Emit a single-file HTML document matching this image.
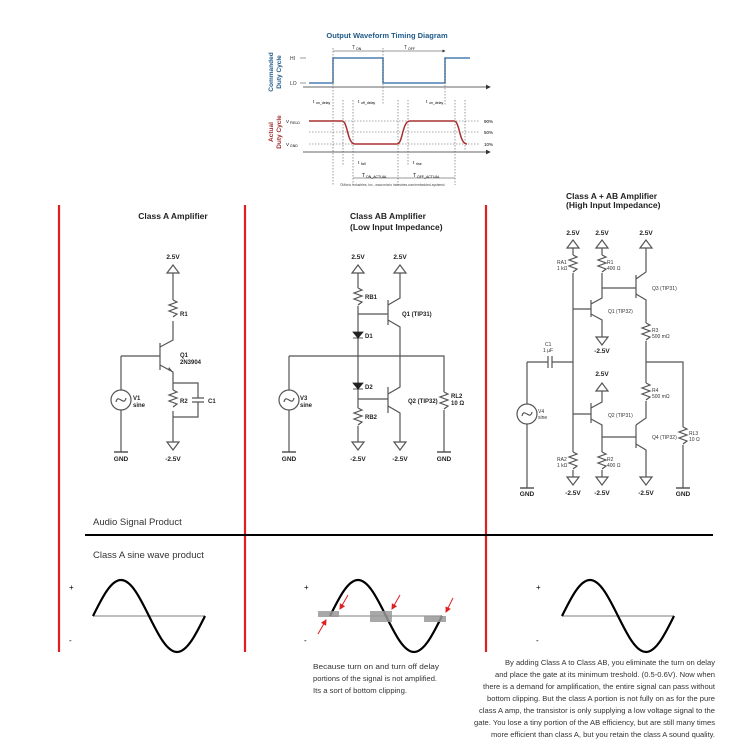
<!DOCTYPE html>
<html><head><meta charset="utf-8"><style>
html,body{margin:0;padding:0;background:#fff;}
svg{display:block;font-family:"Liberation Sans",Arial,sans-serif;}
.w{stroke:#555;stroke-width:1.2;fill:none}
.l{font-size:6px;font-weight:bold;fill:#222}
.v{font-size:6.5px;font-weight:bold;fill:#222}
.t{font-size:8.5px;font-weight:bold;fill:#222}
.s{font-size:5px;fill:#333}
</style></head><body>
<svg width="751" height="750" viewBox="0 0 751 750" xmlns="http://www.w3.org/2000/svg">
<defs>
<g id="tri"><path d="M-6,8 L0,0 L6,8 Z" class="w"/></g>
<g id="trid"><path d="M-6,0 L6,0 L0,8 Z" class="w"/></g>
<g id="gnd"><path d="M-7,0 H7" stroke="#555" stroke-width="1.5"/></g>
<g id="res"><path d="M0,0 l4,2 l-8,3 l8,3 l-8,3 l8,3 l-4,3" class="w"/></g>
<g id="src"><circle r="10" class="w"/><path d="M-5,2 C-3,-7 3,7 5,-2" class="w" stroke-width="1"/></g>
<marker id="ar" markerWidth="6" markerHeight="6" refX="5" refY="3" orient="auto"><path d="M0,0 L6,3 L0,6 Z" fill="#333"/></marker>
<marker id="ra" markerWidth="6" markerHeight="6" refX="5" refY="3" orient="auto"><path d="M0,0 L6,3 L0,6 Z" fill="#e02020"/></marker>
</defs>

<!-- Timing diagram -->
<text x="387" y="38" text-anchor="middle" font-size="7.5" font-weight="bold" fill="#1f5a8a">Output  Waveform Timing Diagram</text>
<text transform="translate(273,72) rotate(-90)" text-anchor="middle" font-size="6.5" font-weight="bold" fill="#1f5a8a">Commanded</text>
<text transform="translate(281,72) rotate(-90)" text-anchor="middle" font-size="6.5" font-weight="bold" fill="#1f5a8a">Duty Cycle</text>
<text transform="translate(273,132) rotate(-90)" text-anchor="middle" font-size="6.5" font-weight="bold" fill="#a03030">Actual</text>
<text transform="translate(281,132) rotate(-90)" text-anchor="middle" font-size="6.5" font-weight="bold" fill="#a03030">Duty Cycle</text>
<text x="290" y="60" class="s">HI</text><text x="290" y="85" class="s">LO</text>
<path d="M300,58 H306 M300,83 H306" stroke="#333" stroke-width="0.6"/>
<path d="M303,87 H490" stroke="#333" stroke-width="0.8" marker-end="url(#ar)"/>
<path d="M309,83 H333 V58 H383 V83 H445 V58 H470" stroke="#4a7fb0" stroke-width="1.5" fill="none"/>
<path d="M333,51 H383 M383,51 H445" stroke="#333" stroke-width="0.5" marker-end="url(#ar)"/>
<text x="352" y="49" class="s">T</text><text x="356" y="50" font-size="3.5">ON</text>
<text x="404" y="49" class="s">T</text><text x="408" y="50" font-size="3.5">OFF</text>
<g stroke="#333" stroke-width="0.5" stroke-dasharray="1.5,1.5">
<path d="M333,48 V185 M343,100 V165 M353,100 V185 M383,48 V105 M398,100 V185 M408,100 V165 M445,58 V105 M455,100 V185 M465,100 V150"/>
</g>
<text x="313" y="103" font-size="4.5">t</text><text x="316" y="104" font-size="3.5">on_delay</text>
<text x="358" y="103" font-size="4.5">t</text><text x="361" y="104" font-size="3.5">off_delay</text>
<text x="426" y="103" font-size="4.5">t</text><text x="429" y="104" font-size="3.5">on_delay</text>
<path d="M303,152 H490" stroke="#333" stroke-width="0.8" marker-end="url(#ar)"/>
<g stroke="#555" stroke-width="0.5" stroke-dasharray="1.5,1.5"><path d="M309,121 H480 M309,132 H480 M309,144 H480"/></g>
<text x="286" y="123" font-size="4.5">V</text><text x="290" y="124" font-size="3.5">FIELD</text>
<text x="286" y="146" font-size="4.5">V</text><text x="290" y="147" font-size="3.5">GND</text>
<text x="484" y="123" font-size="4.5">90%</text><text x="484" y="134" font-size="4.5">50%</text><text x="484" y="146" font-size="4.5">10%</text>
<path d="M309,121 H342 C348,121 347,144 355,144 H397 C403,144 402,121 410,121 H454 C460,121 459,144 467,144" stroke="#a83030" stroke-width="1.5" fill="none"/>
<text x="358" y="164" font-size="4.5">t</text><text x="361" y="165" font-size="3.5">fall</text>
<text x="413" y="164" font-size="4.5">t</text><text x="416" y="165" font-size="3.5">rise</text>
<path d="M353,178 H398 M398,178 H455" stroke="#333" stroke-width="0.5"/>
<text x="362" y="177" font-size="5">T</text><text x="366" y="178" font-size="3.5">ON_ACTUAL</text>
<text x="413" y="177" font-size="5">T</text><text x="417" y="178" font-size="3.5">OFF_ACTUAL</text>
<text x="340" y="186" font-size="3.3" fill="#444">©Micrio Industries, Inc., www.micrio industries.com/embedded-systems/</text>

<!-- Red dividers -->
<g stroke="#e02020" stroke-width="2.2"><path d="M59,205 V652 M245,205 V652 M486,205 V652"/></g>

<!-- Class A -->
<text x="173" y="219" text-anchor="middle" class="t">Class A Amplifier</text>
<text x="173" y="259" text-anchor="middle" class="v">2.5V</text>
<use href="#tri" x="173" y="265"/>
<path d="M173,273 V300" class="w"/><use href="#res" x="173" y="300"/>
<path d="M173,321 V340 L160,347 M160,343 V370 M121,356 H160 M160,365 L173,372 V383 M173,383 V390" class="w"/>
<path d="M168,370 L173,372 L169,367" fill="#555"/>
<text x="180" y="357" class="l">Q1</text><text x="180" y="364" class="l">2N3904</text>
<use href="#res" x="173" y="390"/>
<path d="M173,411 V442 M173,383 H198 V398 M198,402 V417 H173 M192,398 H204 M192,402 H204" class="w"/>
<text x="180" y="403" class="l">R2</text><text x="208" y="403" class="l">C1</text>
<text x="180" y="316" class="l">R1</text>
<use href="#trid" x="173" y="442"/>
<text x="173" y="461" text-anchor="middle" class="v">-2.5V</text>
<path d="M121,356 V390 M121,410 V452" class="w"/><use href="#src" x="121" y="400"/>
<text x="133" y="400" class="l">V1</text><text x="133" y="407" class="l">sine</text>
<use href="#gnd" x="121" y="452"/><text x="121" y="461" text-anchor="middle" class="v">GND</text>

<!-- Class AB -->
<text x="350" y="219" class="t">Class AB Amplifier</text>
<text x="350" y="230" class="t">(Low Input Impedance)</text>
<text x="358" y="259" text-anchor="middle" class="v">2.5V</text><text x="400" y="259" text-anchor="middle" class="v">2.5V</text>
<use href="#tri" x="358" y="265"/><use href="#tri" x="400" y="265"/>
<path d="M358,273 V288" class="w"/><use href="#res" x="358" y="288"/>
<text x="365" y="299" class="l">RB1</text>
<path d="M358,306 V356 M358,314 H388 M388,300 V325 M388,305 L400,298 V273 M388,320 L400,327 V387 L388,394 M388,387 V413 M388,406 L400,413 V442 M358,356 V408 M358,399 H388 M358,426 V442 M289,356 H444 V392 M444,410 V452 M289,356 V390 M289,410 V452" class="w"/>
<path d="M353,332 H363 L358,338 Z M353,338 H363 M353,383 H363 L358,389 Z M353,389 H363" fill="#222" stroke="#222" stroke-width="0.8"/>
<text x="365" y="338" class="l">D1</text><text x="365" y="389" class="l">D2</text>
<use href="#res" x="358" y="408"/><text x="365" y="419" class="l">RB2</text>
<use href="#res" x="444" y="392"/><text x="451" y="398" class="l">RL2</text><text x="451" y="405" class="l">10 Ω</text>
<text x="402" y="316" class="l">Q1 (TIP31)</text><text x="408" y="403" class="l">Q2 (TIP32)</text>
<use href="#trid" x="358" y="442"/><use href="#trid" x="400" y="442"/>
<use href="#src" x="289" y="400"/><text x="300" y="400" class="l">V3</text><text x="300" y="407" class="l">sine</text>
<use href="#gnd" x="289" y="452"/><use href="#gnd" x="444" y="452"/>
<text x="289" y="461" text-anchor="middle" class="v">GND</text><text x="358" y="461" text-anchor="middle" class="v">-2.5V</text><text x="400" y="461" text-anchor="middle" class="v">-2.5V</text><text x="444" y="461" text-anchor="middle" class="v">GND</text>

<!-- Class A + AB -->
<text x="566" y="199" class="t" font-size="7.5">Class A + AB Amplifier</text>
<text x="566" y="208" class="t" font-size="7.5">(High Input Impedance)</text>
<text x="573" y="235" text-anchor="middle" class="v">2.5V</text><text x="602" y="235" text-anchor="middle" class="v">2.5V</text><text x="646" y="235" text-anchor="middle" class="v">2.5V</text>
<use href="#tri" x="573" y="240"/><use href="#tri" x="602" y="240"/><use href="#tri" x="646" y="240"/>
<path d="M573,248 V255 M602,248 V255 M646,248 V272 L636,279 M636,275 V298 M636,294 L646,300 V323" class="w"/>
<use href="#res" x="573" y="255"/><use href="#res" x="602" y="255"/>
<text x="557" y="264" class="s">RA1</text><text x="557" y="270" class="s">1 kΩ</text>
<text x="607" y="264" class="s">R1</text><text x="607" y="270" class="s">400 Ω</text>
<path d="M573,273 V452 M602,273 V298 L591,304 M591,300 V317 M573,309 H591 M591,314 L602,320 V337 M602,288 H636" class="w"/>
<text x="608" y="313" class="s">Q1 (TIP32)</text><text x="652" y="290" class="s">Q3 (TIP31)</text>
<use href="#trid" x="602" y="337"/><text x="602" y="353" text-anchor="middle" class="v">-2.5V</text>
<use href="#res" x="646" y="323"/><text x="652" y="332" class="s">R3</text><text x="652" y="338" class="s">500 mΩ</text>
<path d="M646,341 V383 M646,362 H683 V427 M683,445 V488" class="w"/>
<use href="#res" x="646" y="383"/><text x="652" y="392" class="s">R4</text><text x="652" y="398" class="s">500 mΩ</text>
<path d="M646,401 V418 L636,425 M636,425 V448 M636,444 L646,450 V477 M602,437 H636" class="w"/>
<use href="#res" x="683" y="427"/><text x="689" y="435" class="s">RL3</text><text x="689" y="441" class="s">10 Ω</text>
<text x="652" y="439" class="s">Q4 (TIP32)</text>
<text x="602" y="376" text-anchor="middle" class="v">2.5V</text><use href="#tri" x="602" y="383"/>
<path d="M602,391 V402 L591,408 M591,403 V423 M573,414 H591 M591,419 L602,425 V452" class="w"/>
<text x="608" y="417" class="s">Q2 (TIP31)</text>
<use href="#res" x="573" y="452"/><use href="#res" x="602" y="452"/>
<text x="557" y="461" class="s">RA2</text><text x="557" y="467" class="s">1 kΩ</text>
<text x="607" y="461" class="s">R2</text><text x="607" y="467" class="s">400 Ω</text>
<path d="M573,470 V477 M602,470 V477" class="w"/>
<use href="#trid" x="573" y="477"/><use href="#trid" x="602" y="477"/><use href="#trid" x="646" y="477"/>
<path d="M527,362 H548 M552,362 H573 M548,356 V368 M552,356 V368 M527,362 V404 M527,424 V488" class="w"/>
<text x="545" y="346" class="s">C1</text><text x="543" y="352" class="s">1 µF</text>
<use href="#src" x="527" y="414"/><text x="538" y="413" class="s">V4</text><text x="538" y="419" class="s">sine</text>
<use href="#gnd" x="527" y="488"/><use href="#gnd" x="683" y="488"/>
<text x="527" y="496" text-anchor="middle" class="v">GND</text><text x="573" y="495" text-anchor="middle" class="v">-2.5V</text><text x="602" y="495" text-anchor="middle" class="v">-2.5V</text><text x="646" y="495" text-anchor="middle" class="v">-2.5V</text><text x="683" y="496" text-anchor="middle" class="v">GND</text>

<!-- Audio section -->
<text x="93" y="525" font-size="9.5" fill="#333">Audio Signal Product</text>
<path d="M85,535 H713" stroke="#000" stroke-width="2"/>
<text x="93" y="558" font-size="9.5" fill="#333">Class A sine wave product</text>
<g id="sw">
<path d="M93,616 H205" stroke="#aaa" stroke-width="1.5"/>
<path d="M93,616 C102.1,597.6 110.9,580 121,580 C131.1,580 139.9,597.6 149,616 C158.1,634.4 166.9,652 177,652 C187.1,652 195.9,634.4 205,616" stroke="#000" stroke-width="2.2" fill="none"/>
</g>
<text x="69" y="590" font-size="8">+</text><text x="69" y="643" font-size="8">-</text>
<use href="#sw" x="237"/>
<text x="304" y="590" font-size="8">+</text><text x="304" y="643" font-size="8">-</text>
<use href="#sw" x="469"/>
<text x="536" y="590" font-size="8">+</text><text x="536" y="643" font-size="8">-</text>
<g fill="#999" opacity="0.85"><rect x="318" y="611" width="21" height="6"/><rect x="370" y="611" width="22" height="11"/><rect x="424" y="616" width="22" height="6"/></g>
<g stroke="#e02020" stroke-width="1" marker-end="url(#ra)">
<path d="M348,595 L340,609"/><path d="M400,595 L392,609"/><path d="M453,598 L446,612"/><path d="M318,634 L326,620"/>
</g>
<g font-size="7.6" fill="#333">
<text x="313" y="669" textLength="126" lengthAdjust="spacingAndGlyphs">Because turn on and turn off delay</text>
<text x="313" y="681" textLength="124" lengthAdjust="spacingAndGlyphs">portions of the signal is not amplified.</text>
<text x="313" y="693" textLength="94" lengthAdjust="spacingAndGlyphs">Its a sort of bottom clipping.</text>
<g text-anchor="end">
<text x="715" y="665" textLength="210" lengthAdjust="spacingAndGlyphs">By adding Class A to Class AB, you eliminate the turn on delay</text>
<text x="715" y="677" textLength="220" lengthAdjust="spacingAndGlyphs">and place the gate at its minimum treshold. (0.5-0.6V). Now when</text>
<text x="715" y="689" textLength="232" lengthAdjust="spacingAndGlyphs">there is a demand for amplification, the entire signal can pass without</text>
<text x="715" y="701" textLength="228" lengthAdjust="spacingAndGlyphs">bottom clipping. But the class A portion is not fully on as for the pure</text>
<text x="715" y="713" textLength="236" lengthAdjust="spacingAndGlyphs">class A amp, the transistor is only supplying a low voltage signal to the</text>
<text x="715" y="725" textLength="241" lengthAdjust="spacingAndGlyphs">gate. You lose a tiny portion of the AB efficiency, but are still many times</text>
<text x="715" y="737" textLength="224" lengthAdjust="spacingAndGlyphs">more efficient than class A, but you retain the class A sound quality.</text>
</g></g>
</svg>
</body></html>
